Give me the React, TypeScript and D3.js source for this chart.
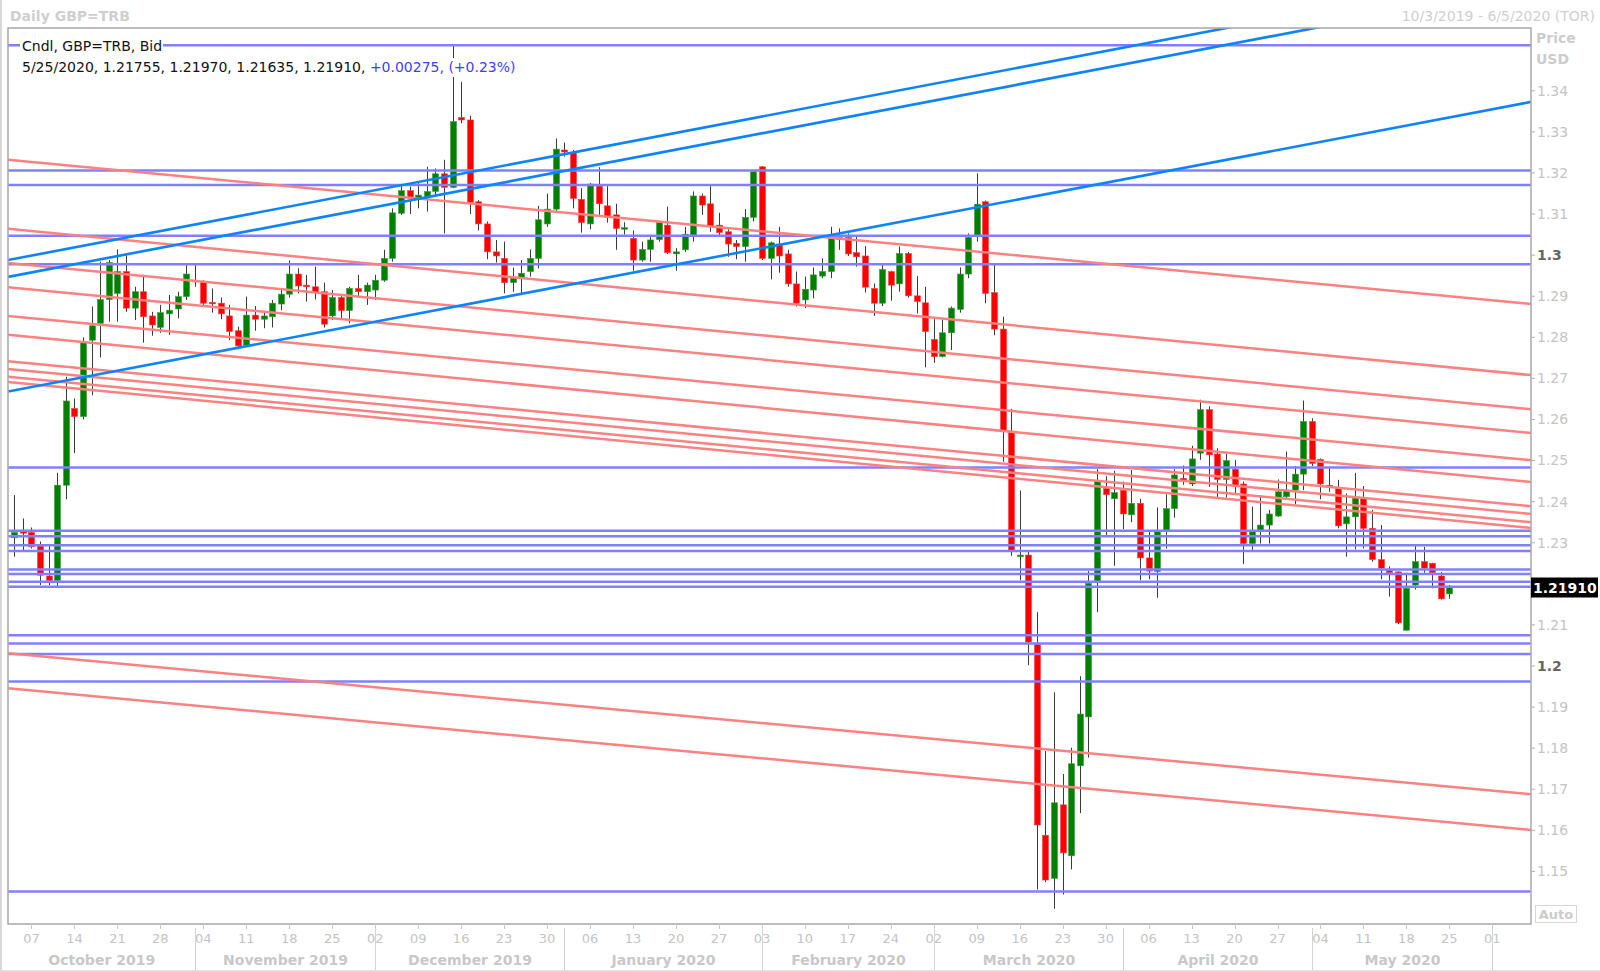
import * as d3 from 'd3';

// trading days shown on the axis (Oct 3 2019 .. Jun 5 2020, weekdays)
const tradingDays = d3.timeDay
  .range(new Date(2019, 9, 3), new Date(2020, 5, 6))
  .filter(d => d.getDay() > 0 && d.getDay() < 6);

const open = [
  1.2312, 1.2327, 1.2325, 1.2292, 1.2219, 1.2208, 1.2440, 1.2627, 1.2607, 1.2793,
  1.2834, 1.2892, 1.2907, 1.2960, 1.2871, 1.2911, 1.2852, 1.2824, 1.2857, 1.2869,
  1.2899, 1.2939, 1.2935, 1.2885, 1.2883, 1.2852, 1.2816, 1.2781, 1.2854, 1.2844,
  1.2850, 1.2881, 1.2905, 1.2954, 1.2927, 1.2923, 1.2911, 1.2852, 1.2897, 1.2865,
  1.2919, 1.2911, 1.2915, 1.2939, 1.2992, 1.3102, 1.3157, 1.3138, 1.3142, 1.3155,
  1.3198, 1.3165, 1.3335, 1.3329, 1.3130, 1.3076, 1.3008, 1.2992, 1.2933, 1.2946,
  1.2960, 1.2992, 1.3076, 1.3112, 1.3256, 1.3249, 1.3136, 1.3076, 1.3168, 1.3120,
  1.3098, 1.3063, 1.3041, 1.2988, 1.3014, 1.3038, 1.3073, 1.3003, 1.3013, 1.3049,
  1.3144, 1.3125, 1.3073, 1.3057, 1.3029, 1.3021, 1.3092, 1.3215, 1.2992, 1.3027,
  1.3003, 1.2930, 1.2891, 1.2915, 1.2949, 1.2960, 1.3038, 1.3043, 1.3006, 1.2998,
  1.2919, 1.2883, 1.2960, 1.2930, 1.3004, 1.2901, 1.2884, 1.2795, 1.2753, 1.2811,
  1.2868, 1.2954, 1.3047, 1.3130, 1.2909, 1.2820, 1.2568, 1.2266, 1.2270, 1.2052,
  1.1588, 1.1483, 1.1662, 1.1538, 1.1757, 1.1876, 1.2207, 1.2432, 1.2407, 1.2427,
  1.2368, 1.2396, 1.2263, 1.2230, 1.2330, 1.2383, 1.2457, 1.2443, 1.2518, 1.2624,
  1.2516, 1.2454, 1.2479, 1.2443, 1.2298, 1.2331, 1.2343, 1.2365, 1.2412, 1.2428,
  1.2467, 1.2595, 1.2503, 1.2440, 1.2432, 1.2346, 1.2363, 1.2408, 1.2335, 1.2259,
  1.2232, 1.2229, 1.2087, 1.2197, 1.2254, 1.2250, 1.2219, 1.21755,
];

const high = [
  1.2416, 1.2359, 1.2337, 1.2303, 1.2294, 1.2470, 1.2704, 1.2651, 1.2800, 1.2875,
  1.2984, 1.2988, 1.3014, 1.3000, 1.2923, 1.2952, 1.2862, 1.2879, 1.2903, 1.2911,
  1.2976, 1.2976, 1.2939, 1.2919, 1.2897, 1.2879, 1.2826, 1.2899, 1.2876, 1.2860,
  1.2891, 1.2919, 1.2987, 1.2968, 1.2952, 1.2972, 1.2933, 1.2915, 1.2905, 1.2923,
  1.2952, 1.2933, 1.2952, 1.3013, 1.3114, 1.3171, 1.3167, 1.3175, 1.3215, 1.3211,
  1.3232, 1.3509, 1.3422, 1.3339, 1.3134, 1.3082, 1.3037, 1.3033, 1.2970, 1.2988,
  1.3014, 1.3120, 1.3150, 1.3284, 1.3274, 1.3256, 1.3163, 1.3176, 1.3214, 1.3168,
  1.3125, 1.3080, 1.3060, 1.3033, 1.3049, 1.3084, 1.3118, 1.3017, 1.3069, 1.3155,
  1.3150, 1.3168, 1.3103, 1.3063, 1.3037, 1.3112, 1.3207, 1.3217, 1.3033, 1.3069,
  1.3013, 1.2960, 1.2948, 1.2970, 1.2992, 1.3069, 1.3065, 1.3053, 1.3049, 1.3022,
  1.2931, 1.2976, 1.2962, 1.3021, 1.3008, 1.2949, 1.2923, 1.2844, 1.2844, 1.2875,
  1.2970, 1.3053, 1.3199, 1.3133, 1.2976, 1.2850, 1.2626, 1.2427, 1.2278, 1.2131,
  1.1793, 1.1936, 1.1737, 1.1801, 1.1975, 1.2231, 1.2479, 1.2462, 1.2475, 1.2449,
  1.2477, 1.2407, 1.2328, 1.2386, 1.2418, 1.2479, 1.2488, 1.2536, 1.2648, 1.2632,
  1.2530, 1.2516, 1.2501, 1.2449, 1.2388, 1.2416, 1.2380, 1.2454, 1.2522, 1.2487,
  1.2646, 1.2603, 1.2505, 1.2481, 1.2453, 1.2420, 1.2470, 1.2438, 1.2380, 1.2343,
  1.2242, 1.2230, 1.2227, 1.2292, 1.2290, 1.2251, 1.2229, 1.2197,
];

const low = [
  1.2266, 1.2282, 1.2286, 1.2197, 1.2197, 1.2195, 1.2406, 1.2518, 1.2600, 1.2659,
  1.2751, 1.2838, 1.2838, 1.2862, 1.2842, 1.2787, 1.2804, 1.2811, 1.2806, 1.2846,
  1.2891, 1.2923, 1.2879, 1.2860, 1.2844, 1.2793, 1.2771, 1.2779, 1.2816, 1.2822,
  1.2824, 1.2866, 1.2897, 1.2907, 1.2887, 1.2892, 1.2824, 1.2842, 1.2846, 1.2834,
  1.2899, 1.2879, 1.2891, 1.2935, 1.2984, 1.3098, 1.3100, 1.3114, 1.3106, 1.3146,
  1.3053, 1.3163, 1.3321, 1.3100, 1.3060, 1.2990, 1.2982, 1.2907, 1.2911, 1.2903,
  1.2948, 1.2968, 1.3069, 1.3106, 1.3240, 1.3114, 1.3055, 1.3063, 1.3098, 1.3079,
  1.3013, 1.3050, 1.2962, 1.2984, 1.2984, 1.3033, 1.3003, 1.2962, 1.3008, 1.3033,
  1.3098, 1.3057, 1.3047, 1.2996, 1.2990, 1.2984, 1.3082, 1.2988, 1.2941, 1.2957,
  1.2923, 1.2875, 1.2871, 1.2895, 1.2944, 1.2944, 1.3013, 1.2998, 1.2972, 1.2909,
  1.2852, 1.2876, 1.2889, 1.2911, 1.2897, 1.2858, 1.2727, 1.2738, 1.2751, 1.2769,
  1.2860, 1.2944, 1.3033, 1.2883, 1.2805, 1.2497, 1.2268, 1.2209, 1.2002, 1.1456,
  1.1474, 1.1409, 1.1444, 1.1505, 1.1642, 1.1777, 1.2131, 1.2318, 1.2244, 1.2333,
  1.2350, 1.2209, 1.2211, 1.2166, 1.2286, 1.2361, 1.2441, 1.2438, 1.2502, 1.2436,
  1.2410, 1.2410, 1.2420, 1.2248, 1.2281, 1.2298, 1.2298, 1.2363, 1.2408, 1.2394,
  1.2428, 1.2487, 1.2406, 1.2424, 1.2335, 1.2266, 1.2284, 1.2286, 1.2254, 1.2211,
  1.2169, 1.2102, 1.2086, 1.2186, 1.2227, 1.2189, 1.2162, 1.21635,
];

const close = [
  1.2325, 1.2325, 1.2290, 1.2221, 1.2208, 1.2440, 1.2645, 1.2607, 1.2787, 1.2828,
  1.2892, 1.2982, 1.2960, 1.2871, 1.2911, 1.2850, 1.2830, 1.2860, 1.2866, 1.2899,
  1.2954, 1.2935, 1.2883, 1.2883, 1.2857, 1.2814, 1.2779, 1.2854, 1.2844, 1.2852,
  1.2883, 1.2905, 1.2954, 1.2925, 1.2923, 1.2909, 1.2832, 1.2897, 1.2865, 1.2919,
  1.2911, 1.2927, 1.2939, 1.2992, 1.3103, 1.3157, 1.3141, 1.3146, 1.3155, 1.3198,
  1.3165, 1.3325, 1.3329, 1.3128, 1.3076, 1.3008, 1.2998, 1.2933, 1.2944, 1.2956,
  1.2992, 1.3086, 1.3112, 1.3258, 1.3251, 1.3138, 1.3079, 1.3173, 1.3125, 1.3092,
  1.3065, 1.3067, 1.2988, 1.3014, 1.3037, 1.3079, 1.3006, 1.3008, 1.3051, 1.3144,
  1.3122, 1.3069, 1.3055, 1.3027, 1.3021, 1.3092, 1.3203, 1.2992, 1.3030, 1.2998,
  1.2930, 1.2883, 1.2917, 1.2952, 1.2960, 1.3041, 1.3043, 1.3003, 1.2996, 1.2922,
  1.2883, 1.2965, 1.2927, 1.3004, 1.2901, 1.2887, 1.2814, 1.2753, 1.2811, 1.2871,
  1.2954, 1.3043, 1.3124, 1.2907, 1.2820, 1.2571, 1.2280, 1.2270, 1.2058, 1.1613,
  1.1479, 1.1667, 1.1545, 1.1762, 1.1883, 1.2201, 1.2449, 1.2417, 1.2422, 1.2370,
  1.2396, 1.2263, 1.2231, 1.2327, 1.2383, 1.2465, 1.2451, 1.2504, 1.2624, 1.2514,
  1.2454, 1.2500, 1.2438, 1.2298, 1.2327, 1.2343, 1.2370, 1.2424, 1.2428, 1.2467,
  1.2595, 1.2493, 1.2443, 1.2438, 1.2341, 1.2363, 1.2408, 1.2335, 1.2259, 1.2238,
  1.2227, 1.2105, 1.2189, 1.2254, 1.2238, 1.2227, 1.21635, 1.2191,
];

// horizontal support/resistance levels
const levels = [
  1.3511, 1.3206, 1.3171, 1.3047, 1.2978, 1.2483, 1.2329, 1.2316, 1.2294, 1.2280,
  1.2235, 1.2224, 1.2205, 1.2193, 1.2075, 1.2055, 1.2029, 1.1962, 1.1451,
];

// descending red lines: price at the left and right plot edges
const redLeft = [1.3232, 1.3064, 1.2981, 1.2922, 1.2852, 1.2806, 1.2742, 1.2723, 1.2704, 1.2691, 1.2031, 1.1946];
const redRight = [1.2881, 1.2708, 1.2625, 1.2567, 1.2501, 1.2448, 1.2389, 1.2370, 1.2350, 1.2336, 1.1688, 1.1601];

// rising blue trendlines: price at the left and right plot edges
const trendLeft = [1.2988, 1.2947, 1.2668];
const trendRight = [1.3694, 1.3653, 1.3373];

const priceTicks = [1.34, 1.33, 1.32, 1.31, 1.3, 1.29, 1.28, 1.27, 1.26, 1.25, 1.24, 1.23, 1.22, 1.21, 1.2, 1.19, 1.18, 1.17, 1.16, 1.15];

const lastClose = 1.2191;

const W = 1600;
const H = 972;
const plot = { left: 8, right: 1531, top: 28, bottom: 924 };
const FONT = "'DejaVu Sans', Verdana, sans-serif";
const GREY = '#c4c4c4';

const x = d3.scaleBand<number>().domain(d3.range(tradingDays.length)).range([10, plot.right]);
const y = d3.scaleLinear().domain([1.15, 1.34]).range([871.4, 90.8]);

export default function App() {
  const bw = x.bandwidth();
  const cx = (i: number) => (x(i) ?? 0) + bw / 2;
  const bodyW = 6;

  const mondays = tradingDays.map((d, i) => ({ d, i })).filter(t => t.d.getDay() === 1);
  const monthStarts = tradingDays
    .map((d, i) => ({ d, i }))
    .filter(t => t.i > 0 && t.d.getMonth() !== tradingDays[t.i - 1].getMonth());
  const seps = monthStarts.map(m => Math.round(cx(m.i)) + 0.5);
  const monthBounds = [plot.left, ...seps];
  const monthLabels = monthBounds.slice(0, -1).map((b, k) => ({
    label: d3.timeFormat('%B %Y')(k === 0 ? tradingDays[0] : monthStarts[k - 1].d),
    cx: (b + monthBounds[k + 1]) / 2,
  }));

  const fmtTick = (v: number) => (Math.abs(v * 10 - Math.round(v * 10)) < 1e-9 ? d3.format('.1f')(v) : d3.format('.2f')(v));
  // the last-price box hides the tick label it sits on
  const boxY = y(lastClose);
  const visibleTicks = priceTicks.filter(v => Math.abs(y(v) - boxY) > 14);

  return (
    <svg width={W} height={H} style={{ position: 'absolute', left: 0, top: 0, background: '#fff' }} fontFamily={FONT}>
      <defs>
        <clipPath id="plotClip">
          <rect x={plot.left} y={plot.top} width={plot.right - plot.left} height={plot.bottom - plot.top} />
        </clipPath>
      </defs>
      <rect x={0} y={0} width={W} height={H} fill="#fff" />
      <line x1={1} x2={1} y1={0} y2={H} stroke="#d8d8d8" strokeWidth={2} />
      <line x1={0} x2={W} y1={H - 1} y2={H - 1} stroke="#e0e0e0" strokeWidth={2} />

      {/* header */}
      <text x={10} y={21} fontSize={14} fontWeight="bold" fill="#cfcfcf">Daily GBP=TRB</text>
      <text x={1595} y={21} fontSize={14} fill="#cfcfcf" textAnchor="end">10/3/2019 - 6/5/2020 (TOR)</text>

      {/* candles */}
      <g clipPath="url(#plotClip)">
        {open.map((o, i) => {
          const c = close[i];
          const up = c >= o;
          const xc = Math.round(cx(i));
          const yTop = y(Math.max(o, c));
          const yBot = y(Math.min(o, c));
          return (
            <g key={i}>
              <line x1={xc + 0.5} x2={xc + 0.5} y1={y(high[i])} y2={y(low[i])} stroke="#3a3a3a" strokeWidth={1} />
              <rect
                x={xc - bodyW / 2 + 0.5}
                y={yTop}
                width={bodyW}
                height={Math.max(1.5, yBot - yTop)}
                fill={up ? '#008000' : '#ff0000'}
                stroke={up ? '#3c9c3c' : '#ff4040'}
                strokeWidth={0.6}
              />
            </g>
          );
        })}
      </g>

      {/* drawn lines */}
      <g clipPath="url(#plotClip)" fill="none">
        {levels.map((p, k) => (
          <line key={'h' + k} x1={plot.left} x2={plot.right} y1={y(p)} y2={y(p)} stroke="#8080ff" strokeWidth={2.5} />
        ))}
        {redLeft.map((p, k) => (
          <line key={'r' + k} x1={plot.left} x2={plot.right} y1={y(p)} y2={y(redRight[k])} stroke="#ff8080" strokeWidth={2.5} />
        ))}
        {trendLeft.map((p, k) => (
          <line key={'t' + k} x1={plot.left} x2={plot.right} y1={y(p)} y2={y(trendRight[k])} stroke="#0d84ff" strokeWidth={2.6} />
        ))}
      </g>

      {/* legend */}
      <rect x={20} y={37} width={143} height={18} fill="#fff" />
      <text x={22} y={51} fontSize={14} fill="#111">Cndl, GBP=TRB, Bid</text>
      <rect x={20} y={58} width={500} height={19} fill="#fff" />
      <text x={22} y={72} fontSize={14} fill="#111">
        5/25/2020, 1.21755, 1.21970, 1.21635, 1.21910, <tspan fill="#3d3dff">+0.00275, (+0.23%)</tspan>
      </text>

      {/* plot frame */}
      <rect x={plot.left} y={plot.top} width={plot.right - plot.left} height={plot.bottom - plot.top} fill="none" stroke="#a8a8a8" strokeWidth={1.5} />

      {/* price axis */}
      <text x={1536} y={43} fontSize={14} fontWeight="bold" fill="#cccccc">Price</text>
      <text x={1536} y={64} fontSize={14} fontWeight="bold" fill="#cccccc">USD</text>
      {priceTicks.map(v => (
        <line key={'tk' + v} x1={plot.right} x2={plot.right + 4} y1={y(v)} y2={y(v)} stroke="#b0b0b0" />
      ))}
      {visibleTicks.map(v => {
        const bold = fmtTick(v).length === 3;
        return (
          <text key={v} x={1537} y={y(v)} dy="0.35em" fontSize={14} fontWeight={bold ? 'bold' : 'normal'} fill={bold ? '#666' : GREY}>
            {fmtTick(v)}
          </text>
        );
      })}
      <rect x={plot.right} y={boxY - 10} width={67} height={20} fill="#000" />
      <text x={plot.right + 2} y={boxY} dy="0.36em" fontSize={14} fontWeight="bold" fill="#fff">
        {d3.format('.5f')(lastClose)}
      </text>
      <rect x={1535.5} y={905.5} width={41} height={17} fill="#fff" stroke="#d6d6d6" />
      <text x={1556} y={919} fontSize={13} fontWeight="bold" fill="#cccccc" textAnchor="middle">Auto</text>

      {/* time axis */}
      {mondays.map(m => (
        <g key={m.i}>
          <line x1={Math.round(cx(m.i)) + 0.5} x2={Math.round(cx(m.i)) + 0.5} y1={plot.bottom} y2={plot.bottom + 5} stroke="#c8c8c8" />
          <text x={cx(m.i)} y={943} fontSize={13} fill={GREY} textAnchor="middle">{d3.timeFormat('%d')(m.d)}</text>
        </g>
      ))}
      {seps.map((s, k) => (
        <line key={k} x1={s} x2={s} y1={plot.bottom + 4} y2={H - 2} stroke="#d4d4d4" />
      ))}
      {monthLabels.map(m => (
        <text key={m.label} x={m.cx} y={965} fontSize={14} fontWeight="bold" fill="#c8c8c8" textAnchor="middle">{m.label}</text>
      ))}
    </svg>
  );
}
